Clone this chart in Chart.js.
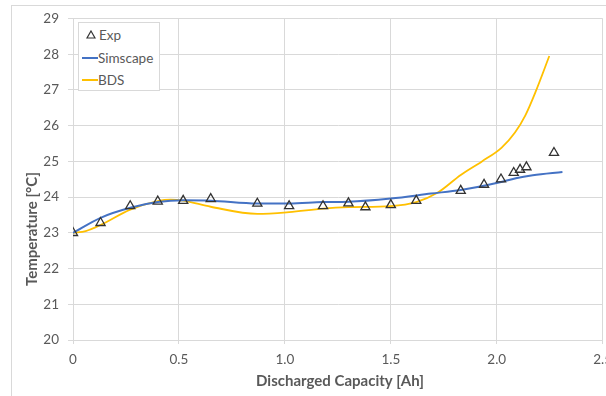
<!DOCTYPE html>
<html>
<head>
<meta charset="utf-8">
<script src="https://cdn.jsdelivr.net/npm/chart.js"></script>
<style>
  html, body { margin: 0; padding: 0; width: 606px; height: 396px; overflow: hidden; background: #fff; }
  #frame { position: absolute; left: 11px; top: 5px; width: 700px; height: 500px; border: 1px solid #d9d9d9; }
  #wrap { position: absolute; left: 0; top: 0; width: 640px; height: 396px; }
  #legend {
    position: absolute; left: 78px; top: 22px; width: 82px; height: 69px; box-sizing: border-box;
    border: 1px solid #d9d9d9; background: #fff; padding-top: 1px;
    font-family: Lato, 'Open Sans', sans-serif; font-size: 13.5px; color: #595959;
  }
  #legend .item { position: relative; height: 22.5px; line-height: 22px; white-space: nowrap; }
  #legend .item .label { position: absolute; left: 19px; top: 0; }
  #legend .item.point .label { left: 20px; }
  #legend .swatch { position: absolute; display: block; }
  #legend .swatch svg { display: block; }
</style>
</head>
<body>
<div id="frame"></div>
<div id="wrap"><canvas id="chart" width="640" height="396"></canvas></div>
<div id="legend"></div>
<script>
// Experimental points (triangles)
const expX = [0, 0.13, 0.27, 0.40, 0.52, 0.65, 0.87, 1.02, 1.18, 1.30, 1.38, 1.50, 1.62, 1.83, 1.94, 2.02, 2.08, 2.11, 2.14, 2.27];
const expY = [23.0, 23.28, 23.75, 23.88, 23.9, 23.95, 23.82, 23.75, 23.75, 23.83, 23.72, 23.78, 23.9, 24.18, 24.35, 24.5, 24.68, 24.77, 24.84, 25.24];

// Simscape model
const simX = [0, 0.13, 0.27, 0.40, 0.52, 0.65, 0.87, 1.02, 1.18, 1.30, 1.50, 1.69, 1.83, 2.01, 2.09, 2.17, 2.31];
const simY = [23.0, 23.42, 23.70, 23.86, 23.91, 23.90, 23.82, 23.82, 23.86, 23.87, 23.96, 24.1, 24.2, 24.41, 24.53, 24.61, 24.7];

// BDS model
const bdsX = [0, 0.06, 0.13, 0.27, 0.40, 0.46, 0.52, 0.65, 0.87, 1.02, 1.18, 1.30, 1.50, 1.62, 1.72, 1.83, 1.93, 2.022, 2.086, 2.135, 2.184, 2.248];
const bdsY = [23.0, 23.05, 23.22, 23.65, 23.89, 23.93, 23.9, 23.73, 23.53, 23.58, 23.68, 23.72, 23.75, 23.86, 24.12, 24.62, 25.0, 25.38, 25.81, 26.29, 26.96, 27.95];

const xTitle = 'Discharged Capacity [Ah]';
const yTitle = 'Temperature [°C]';

const TEXT = '#595959';
const GRID = '#d9d9d9';
const FONT = "Lato, 'Open Sans', sans-serif";

const pts = (xs, ys) => xs.map((x, i) => ({ x, y: ys[i] }));

// axis titles drawn by hand so the y title sits where Excel put it
const axisTitles = {
  id: 'axisTitles',
  afterDraw(chart) {
    const ctx = chart.ctx;
    ctx.save();
    ctx.fillStyle = TEXT;
    ctx.font = 'bold 15px ' + FONT;
    ctx.textAlign = 'center';
    ctx.textBaseline = 'middle';
    ctx.fillText(xTitle, 340, 381.5);
    ctx.translate(32.5, 229);
    ctx.rotate(-Math.PI / 2);
    ctx.fillText(yTitle, 0, 0);
    ctx.restore();
  }
};

const chart = new Chart(document.getElementById('chart').getContext('2d'), {
  type: 'scatter',
  data: {
    datasets: [
      {
        label: 'Exp',
        data: pts(expX, expY),
        showLine: false,
        pointStyle: 'triangle',
        pointRadius: 5.3,
        pointBorderWidth: 1.3,
        borderColor: '#333333',
        backgroundColor: 'rgba(255,255,255,0)',
      },
      {
        label: 'Simscape',
        data: pts(simX, simY),
        showLine: true,
        pointRadius: 0,
        borderColor: '#4472C4',
        borderWidth: 2,
        cubicInterpolationMode: 'monotone',
      },
      {
        label: 'BDS',
        data: pts(bdsX, bdsY),
        showLine: true,
        pointRadius: 0,
        borderColor: '#FFC000',
        borderWidth: 1.8,
        cubicInterpolationMode: 'monotone',
      },
    ],
  },
  options: {
    responsive: false,
    animation: false,
    devicePixelRatio: 1,
    layout: { padding: { left: 0, top: 18.5, right: 37.3, bottom: 0 } },
    plugins: { legend: { display: false }, tooltip: { enabled: false } },
    scales: {
      x: {
        type: 'linear', min: 0, max: 2.5,
        afterFit: s => { s.height = 56; },
        ticks: { stepSize: 0.5, color: TEXT, font: { family: FONT, size: 13.5 }, padding: 8, maxRotation: 0 },
        grid: { color: GRID, tickLength: 4 },
        border: { color: GRID },
      },
      y: {
        min: 20, max: 29,
        afterFit: s => { s.width = 73; },
        ticks: { stepSize: 1, color: TEXT, font: { family: FONT, size: 13.5 }, padding: 9 },
        grid: { color: GRID, tickLength: 5 },
        border: { color: GRID },
      },
    },
  },
  plugins: [axisTitles],
});

// HTML legend built from the datasets
const legend = document.getElementById('legend');
chart.data.datasets.forEach(ds => {
  const row = document.createElement('div');
  row.className = 'item' + (ds.showLine ? '' : ' point');
  const sw = document.createElement('span');
  sw.className = 'swatch';
  if (ds.showLine) {
    Object.assign(sw.style, { left: '3px', top: '10px', width: '16px', height: '2px', background: ds.borderColor });
  } else {
    Object.assign(sw.style, { left: '7px', top: '6px', width: '10px', height: '9px' });
    sw.innerHTML = '<svg width="10" height="9" viewBox="0 0 10 9"><polygon points="5,1 9,8 1,8" fill="none" stroke="#333" stroke-width="1.2"/></svg>';
  }
  const lbl = document.createElement('span');
  lbl.className = 'label';
  lbl.textContent = ds.label;
  row.appendChild(sw);
  row.appendChild(lbl);
  legend.appendChild(row);
});
</script>
</body>
</html>
